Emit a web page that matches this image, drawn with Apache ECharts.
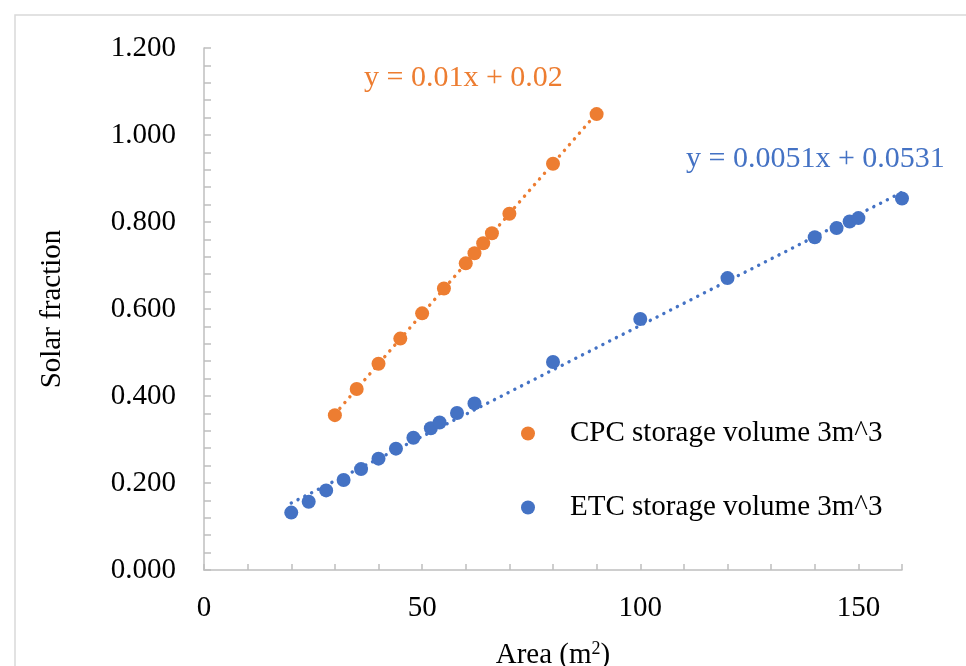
<!DOCTYPE html>
<html>
<head>
<meta charset="utf-8">
<script src="https://cdn.jsdelivr.net/npm/echarts@6/dist/echarts.min.js"></script>
<style>
  html, body { margin: 0; padding: 0; background: #fff; }
  #main { width: 966px; height: 666px; }
</style>
</head>
<body>
<div id="main"></div>
<script>
var chartDom = document.getElementById('main');
var myChart = echarts.init(chartDom);
var option;

// CPC collector, storage 3 m^3
const cpcArea = [30, 35, 40, 45, 50, 55, 60, 62, 64, 66, 70, 80, 90];
const cpcFraction = [0.356, 0.416, 0.474, 0.532, 0.590, 0.647, 0.705, 0.728, 0.751, 0.774, 0.819, 0.934, 1.048];

// ETC collector, storage 3 m^3
const etcArea = [20, 24, 28, 32, 36, 40, 44, 48, 52, 54, 58, 62, 80, 100, 120, 140, 145, 148, 150, 160];
const etcFraction = [0.132, 0.157, 0.183, 0.207, 0.232, 0.256, 0.279, 0.304, 0.326, 0.339, 0.361, 0.383,
  0.478, 0.577, 0.671, 0.765, 0.786, 0.801, 0.809, 0.854];

const seriesNames = ['CPC storage volume 3m^3', 'ETC storage volume 3m^3'];
const equations = ['y = 0.01x + 0.02', 'y = 0.0051x + 0.0531'];

const ORANGE = '#ED7D31';
const BLUE = '#4472C4';
const FONT = '"Liberation Serif", "DejaVu Serif", serif';
const FS = 29;

function pairs(xs, ys) {
  return xs.map((x, i) => [x, ys[i]]);
}

// least squares line through the points, drawn from first to last x
function trend(xs, ys) {
  const n = xs.length;
  let sx = 0, sy = 0, sxx = 0, sxy = 0;
  for (let i = 0; i < n; i++) {
    sx += xs[i]; sy += ys[i]; sxx += xs[i] * xs[i]; sxy += xs[i] * ys[i];
  }
  const b = (n * sxy - sx * sy) / (n * sxx - sx * sx);
  const a = (sy - b * sx) / n;
  const x0 = Math.min(...xs), x1 = Math.max(...xs);
  return [[x0, a + b * x0], [x1, a + b * x1]];
}

function trendSeries(xs, ys, color) {
  return {
    type: 'line',
    data: trend(xs, ys),
    showSymbol: false,
    silent: true,
    z: 1,
    lineStyle: { color: color, width: 3.4, type: [0.1, 7.5], cap: 'round' }
  };
}

option = {
  backgroundColor: '#fff',
  animation: false,
  textStyle: { fontFamily: FONT },
  graphic: [
    {
      type: 'rect',
      shape: { x: 15, y: 15, width: 1000, height: 700 },
      style: { fill: 'none', stroke: '#d9d9d9', lineWidth: 1.5 },
      silent: true
    },
    {
      type: 'text', left: 364, top: 63,
      style: { text: equations[0], fill: ORANGE, font: '30px ' + FONT }
    },
    {
      type: 'text', left: 686, top: 144,
      style: { text: equations[1], fill: BLUE, font: '30px ' + FONT }
    }
  ],
  grid: { left: 204, right: 64, top: 48, bottom: 96, containLabel: false, outerBoundsMode: 'none' },
  legend: {
    orient: 'vertical',
    left: 516,
    top: 414,
    itemGap: 45,
    itemWidth: 14,
    itemHeight: 14,
    icon: 'circle',
    data: seriesNames,
    textStyle: { fontFamily: FONT, fontSize: FS, color: '#000', padding: [0, 0, 0, 30] }
  },
  xAxis: {
    type: 'value',
    min: 0,
    max: 160,
    interval: 10,
    name: 'Area (m{sup|2})',
    nameLocation: 'middle',
    nameGap: 70,
    nameTextStyle: {
      fontFamily: FONT, fontSize: FS, color: '#000',
      rich: { sup: { fontFamily: FONT, fontSize: 18, verticalAlign: 'top', padding: [0, 0, 12, 0], color: '#000' } }
    },
    axisLine: { lineStyle: { color: '#bfbfbf', width: 1.5 } },
    axisTick: { inside: true, length: 6, lineStyle: { color: '#bfbfbf', width: 1.5 } },
    axisLabel: {
      margin: 24,
      fontFamily: FONT, fontSize: FS, color: '#000',
      formatter: v => (v % 50 === 0 ? String(v) : '')
    },
    splitLine: { show: false }
  },
  yAxis: {
    type: 'value',
    min: 0,
    max: 1.2,
    interval: 0.2,
    name: 'Solar fraction',
    nameLocation: 'middle',
    nameGap: 137,
    nameRotate: 90,
    nameTextStyle: { fontFamily: FONT, fontSize: FS, color: '#000' },
    axisLine: { show: true, lineStyle: { color: '#bfbfbf', width: 1.5 } },
    axisTick: { show: true, inside: true, length: 7, lineStyle: { color: '#bfbfbf', width: 1.5 } },
    minorTick: { show: true, splitNumber: 5, length: 7, lineStyle: { color: '#bfbfbf', width: 1.5 } },
    axisLabel: {
      margin: 28,
      fontFamily: FONT, fontSize: FS, color: '#000',
      formatter: v => v.toFixed(3)
    },
    splitLine: { show: false }
  },
  series: [
    trendSeries(cpcArea, cpcFraction, ORANGE),
    trendSeries(etcArea, etcFraction, BLUE),
    {
      name: seriesNames[0],
      type: 'scatter',
      data: pairs(cpcArea, cpcFraction),
      symbolSize: 14,
      itemStyle: { color: ORANGE, opacity: 1 },
      z: 3
    },
    {
      name: seriesNames[1],
      type: 'scatter',
      data: pairs(etcArea, etcFraction),
      symbolSize: 14,
      itemStyle: { color: BLUE, opacity: 1 },
      z: 3
    }
  ]
};

option && myChart.setOption(option);
</script>
</body>
</html>
